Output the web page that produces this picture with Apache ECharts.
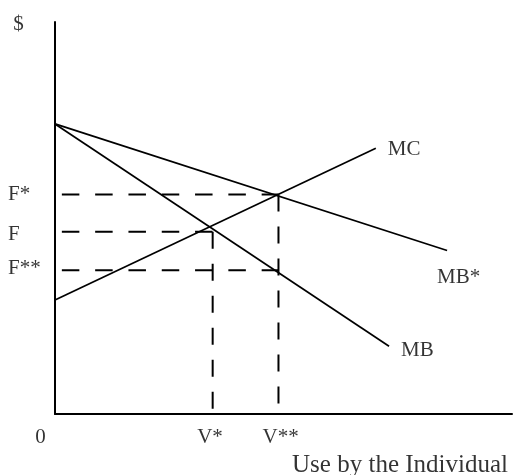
<!DOCTYPE html>
<html>
<head>
<meta charset="utf-8">
<script src="https://cdn.jsdelivr.net/npm/echarts@6/dist/echarts.min.js"></script>
<style>html,body{margin:0;padding:0;background:#fff;}#c{width:514px;height:475px;}</style>
</head>
<body>
<div id="c"></div>
<script>
// ---- data (conceptual units, axes 0..10) ----
const axisMax = 10;
const priceLabels = ['F*', 'F', 'F**'];
const priceValues = [5.60, 4.65, 3.67];
const useLabels = ['V*', 'V**'];
const useValues = [3.45, 4.89];
const curveNames = ['MC', 'MB*', 'MB'];
const mcPoints = [[0, 2.91], [7.02, 6.78]];
const mbStarPoints = [[0, 7.40], [8.58, 4.17]];
const mbPoints = [[0, 7.40], [7.31, 1.73]];
const priceToUse = [1, 0, 1]; // which V each F level meets: F*->V**, F->V*, F**->V**
const dashStart = 0.15;
const axisTitleX = 'Use by the Individual';
const axisTitleY = '$';
const originLabel = '0';

// ---- styles ----
const FONT = 'Liberation Serif';
const FS = 21;
const ink = '#000';
const curveOffsets = [[12, 1], [-10, 27], [12, 4]];
const priceOffsets = [0, 2.5, -2];
const useOffsets = [-2.7, 2.2];

const curves = [mcPoints, mbStarPoints, mbPoints];
const series = [];
curves.forEach((pts, i) => {
  series.push({
    type: 'line', name: curveNames[i], data: pts, symbol: 'none', silent: true,
    lineStyle: { color: ink, width: 1.7 }
  });
});
// dashed horizontal guides
priceValues.forEach((v, i) => {
  series.push({
    type: 'line', data: [[dashStart, v], [useValues[priceToUse[i]], v]], symbol: 'none', silent: true,
    lineStyle: { color: ink, width: 2, type: [17.5, 15.8] }
  });
});
// dashed vertical guides
useValues.forEach((u, j) => {
  let top = 0;
  priceValues.forEach((v, i) => { if (priceToUse[i] === j) top = Math.max(top, v); });
  series.push({
    type: 'line', data: [[u, top], [u, 0]], symbol: 'none', silent: true,
    lineStyle: { color: ink, width: 2, type: [17, 15] }
  });
});

// text annotations anchored at data points
const ann = [];
function addLabel(pt, text, align, off, size) {
  ann.push({
    value: pt,
    label: { show: true, position: 'inside', formatter: text, align: align, verticalAlign: 'middle',
      offset: off, color: ink, fontFamily: FONT, fontSize: size || FS }
  });
}
curves.forEach((pts, i) => addLabel(pts[pts.length - 1], curveNames[i], 'left', curveOffsets[i]));
priceValues.forEach((v, i) => addLabel([0, v], priceLabels[i], 'left', [-47, priceOffsets[i]]));
useValues.forEach((u, j) => addLabel([u, 0], useLabels[j], 'center', [useOffsets[j], 23]));
addLabel([0, 0], originLabel, 'center', [-14.5, 23]);
addLabel([0, axisMax], axisTitleY, 'center', [-36.5, 2]);
addLabel([axisMax, 0], axisTitleX, 'right', [-4, 51], 25);

series.push({
  type: 'scatter', data: ann, symbolSize: 0.1, silent: true,
  itemStyle: { color: 'rgba(0,0,0,0)' }
});

const chart = echarts.init(document.getElementById('c'), null, { renderer: 'canvas' });
chart.setOption({
  animation: false,
  backgroundColor: '#fff',
  grid: { left: 55, right: 2, top: 22, bottom: 61, containLabel: false },
  xAxis: {
    type: 'value', min: 0, max: axisMax,
    axisLine: { show: true, onZero: false, lineStyle: { color: ink, width: 2 } },
    axisTick: { show: false }, axisLabel: { show: false }, splitLine: { show: false }
  },
  yAxis: {
    type: 'value', min: 0, max: axisMax,
    axisLine: { show: true, onZero: false, lineStyle: { color: ink, width: 2 } },
    axisTick: { show: false }, axisLabel: { show: false }, splitLine: { show: false }
  },
  series: series
});
</script>
</body>
</html>
